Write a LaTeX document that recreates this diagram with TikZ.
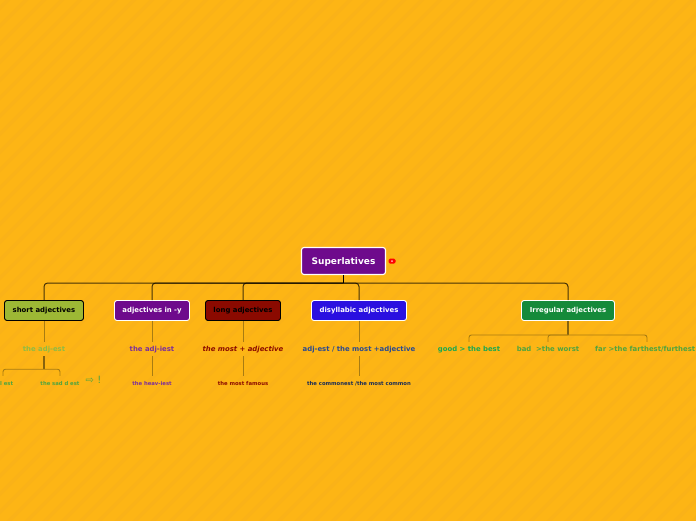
\documentclass[tikz,border=0pt]{standalone}
\usepackage{fontspec}
\setmainfont{DejaVu Sans}
\definecolor{bgorange}{HTML}{FDB515}
\definecolor{bgstripe}{HTML}{FAB218}
\definecolor{stemgold}{HTML}{A87C12}
\definecolor{oliveleaf}{HTML}{9DB835}
\definecolor{royalpurple}{HTML}{6E0A8C}
\definecolor{darkred}{HTML}{8B0A00}
\definecolor{brightblue}{HTML}{2A10E0}
\definecolor{irrgreen}{HTML}{158A3A}
\definecolor{textgreen}{HTML}{8DBB45}
\definecolor{textpurple}{HTML}{7B2D9B}
\definecolor{textnavy}{HTML}{2A4A90}
\definecolor{textmint}{HTML}{1BA850}
\definecolor{textleaf}{HTML}{4FA43F}
\begin{document}
\begin{tikzpicture}[x=1pt,y=-1pt, every node/.style={font=\fontsize{6.9}{8}\selectfont\bfseries}]
  \tikzstyle{topicbox}=[draw=white,line width=0.9pt,rounded corners=2.5pt,minimum height=20pt,inner sep=0pt,text=white,text height=5pt,text depth=1.5pt]
  \tikzstyle{branchline}=[draw=black,draw opacity=0.72,line width=1pt,rounded corners=3.5pt]
  \tikzstyle{stemline}=[draw=stemgold,line width=0.9pt]
  \tikzstyle{forkline}=[draw=stemgold,line width=0.9pt,rounded corners=2.5pt]
  \tikzstyle{ruletext}=[inner sep=0pt,minimum height=14pt,text height=6.5pt,text depth=1.5pt]
  \tikzstyle{leaftext}=[inner sep=0pt,minimum height=14pt,text height=6pt,text depth=1pt,font=\fontsize{5.3}{6}\selectfont\bfseries]
  \useasboundingbox (0,0) rectangle (696,520);
  \fill[bgorange] (-2,-2) rectangle (698,522);
  \foreach \i in {0,18,...,1260} \draw[bgstripe,line width=3pt] (\i,-10) -- (\i-540,530);
  % main topic
  \node[topicbox,line width=1.1pt,fill=royalpurple,minimum width=84pt,minimum height=27pt,text height=9pt,font=\fontsize{9}{10}\selectfont\bfseries] (root) at (343.5,261) {Superlatives};
  \node[fill=red,rounded corners=1.5pt,minimum width=7pt,minimum height=5pt,inner sep=0pt] (marker) at (392,261) {};
  \fill[white!75!red] (marker.center) circle (1pt);
  % branches
  \node[topicbox,draw=black,fill=oliveleaf,minimum width=79pt,text=black] (short) at (44,310.5) {short adjectives};
  \node[topicbox,fill=royalpurple,minimum width=75pt] (iest) at (152,310.5) {adjectives in -y};
  \node[topicbox,draw=black,fill=darkred,minimum width=75pt,text=black] (long) at (243,310.5) {long adjectives};
  \node[topicbox,fill=brightblue,minimum width=95pt] (disyl) at (359,310.5) {disyllabic adjectives};
  \node[topicbox,fill=irrgreen,minimum width=93pt] (irreg) at (568,310.5) {Irregular adjectives};
  % rules
  \node[ruletext,text=textgreen] (shortrule) at (44,349) {the adj-est};
  \node[ruletext,text=textpurple] (iestrule) at (152,349) {the adj-iest};
  \node[ruletext,text=darkred,font=\fontsize{6.9}{8}\selectfont\bfseries\itshape] (longrule) at (243,349) {the most + adjective};
  \node[ruletext,text=textnavy] (disylrule) at (359,349) {adj-est / the most +adjective};
  \node[ruletext,text=textmint] (good) at (469,349) {good > the best};
  \node[ruletext,text=textleaf] (bad) at (548,349) {bad\ \ >the worst};
  \node[ruletext,text=textleaf,anchor=west] (far) at (595,349) {far >the farthest/furthest};
  % examples
  \node[leaftext,text=textleaf,anchor=west] (leafa) at (0,383) {l est};
  \node[leaftext,text=textleaf] (leafb) at (60,383) {the sad d est};
  \node[leaftext,text=textleaf,font=\fontsize{10}{11}\selectfont] (mark) at (93.5,381) {⇨ !};
  \node[leaftext,text=textpurple] (iestex) at (152,383) {the heav-iest};
  \node[leaftext,text=darkred] (longex) at (243,383) {the most famous};
  \node[leaftext,text=textnavy!60!black] (disylex) at (359,383) {the commonest /the most common};
  % connectors
  \coordinate (rootbus) at ([yshift=-8pt]root.south);
  \coordinate (shortfork) at ([yshift=-13pt]shortrule.south);
  \coordinate (irregfork) at ([yshift=-14pt]irreg.south);
  \draw[draw=black,line width=1pt] (root.south) -- (rootbus);
  \foreach \n in {short,iest,long,disyl,irreg} \draw[branchline] (rootbus) -| (\n.north);
  \draw[stemline] (short) -- (shortrule);
  \draw[stemline] (iest) -- (iestrule);
  \draw[stemline] (long) -- (longrule);
  \draw[stemline] (disyl) -- (disylrule);
  \draw[stemline] (iestrule) -- (iestex);
  \draw[stemline] (longrule) -- (longex);
  \draw[stemline] (disylrule) -- (disylex);
  \draw[stemline,line width=1.3pt,draw=stemgold!80!black] (shortrule.south) -- (shortfork);
  \draw[forkline] (shortfork) -| ([xshift=3pt]leafa.north west);
  \draw[forkline] (shortfork) -| (leafb.north);
  \draw[stemline,line width=1.3pt,draw=stemgold!80!black] (irreg.south) -- (irregfork);
  \draw[forkline] (irregfork) -| (good.north);
  \draw[forkline] (irregfork) -| (bad.north);
  \draw[forkline] (irregfork) -| ([xshift=52pt]far.north west);
\end{tikzpicture}
\end{document}
